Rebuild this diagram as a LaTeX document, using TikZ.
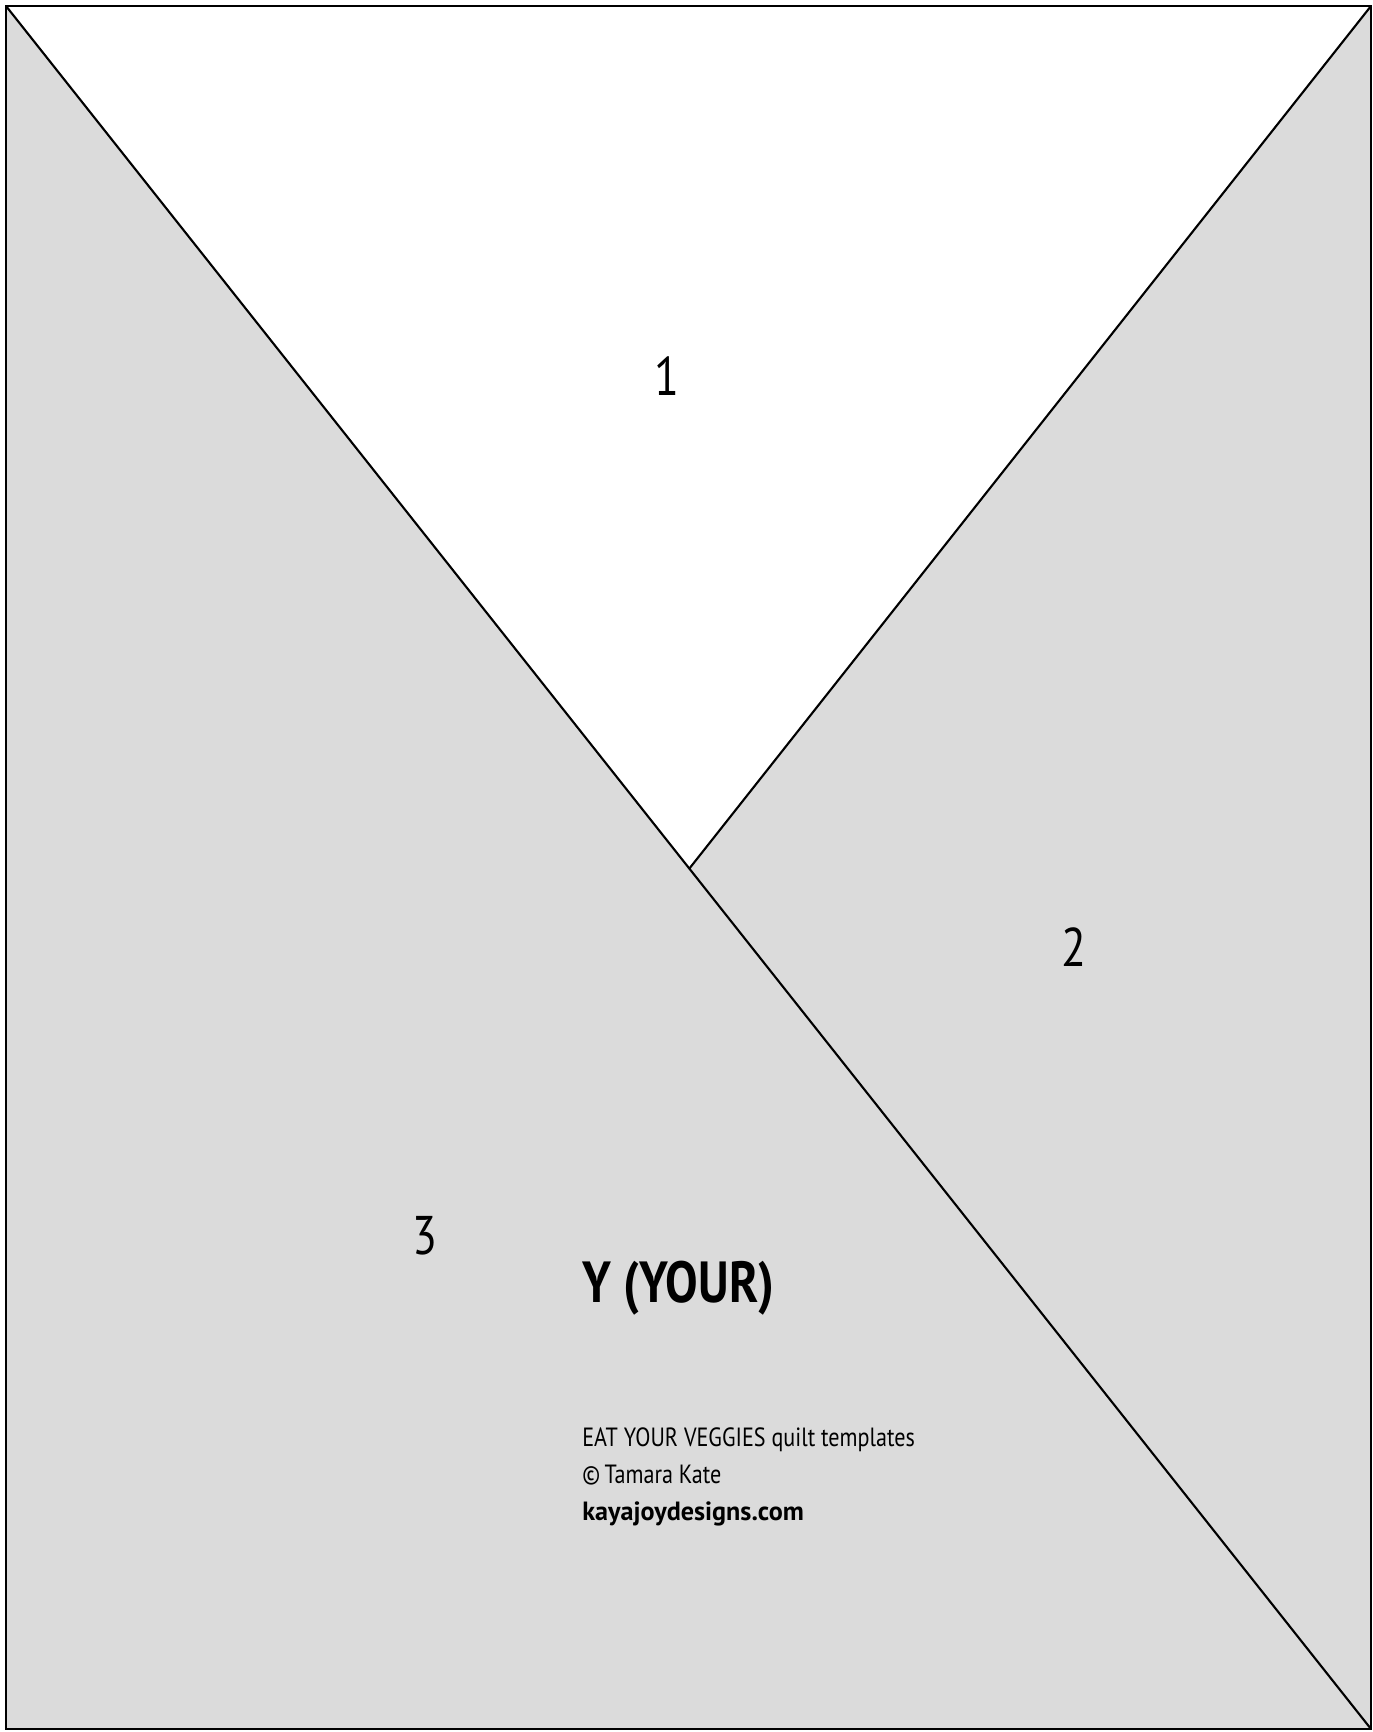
\documentclass[tikz,border=0pt]{standalone}
\usepackage{fontspec}
\setmainfont{PT Sans}[FakeStretch=0.84]
\usepackage{tikz}
\usetikzlibrary{positioning}
\definecolor{patchgray}{RGB}{219,219,219}

\begin{document}
\begin{tikzpicture}[
  x=0.2mm, y=-0.2mm,
  seam/.style={draw=black, line width=1.2pt},
  piece/.style={font=\fontsize{31}{31}\selectfont, inner sep=0pt},
  credit/.style={font=\fontsize{15}{18}\selectfont, inner sep=0pt, anchor=base west},
]
  \useasboundingbox (0,0) rectangle (1373,1732);

  % Corners
  \coordinate (tl) at (6,6);
  \coordinate (tr) at (1371,6);
  \coordinate (bl) at (6,1729);
  \coordinate (br) at (1371,1729);
  \coordinate (apex) at (689,869);

  % Patches
  \fill[patchgray] (tl) rectangle (br);
  \fill[white] (tl) -- (tr) -- (apex) -- cycle;

  % Seams
  \draw[seam] (tl) rectangle (br);
  \draw[seam] (tl) -- (br);
  \draw[seam] (tr) -- (apex);

  % Piece numbers
  \node[piece] (p1) at (667,376) {1};
  \node[piece] (p2) at (1074,947) {2};
  \node[piece] (p3) at (425,1236) {3};

  % Title
  \node[inner sep=0pt, anchor=base west, font=\fontsize{33}{33}\selectfont\bfseries] (title) at (582,1302) {Y (YOUR)};

  % Credits
  \node[credit] (line1) at (582,1446) {EAT YOUR VEGGIES quilt templates};
  \node[credit] (line2) at (582,1483) {\textcopyright\,Tamara Kate};
  \node[credit, font=\fontsize{15}{18}\selectfont\bfseries] (line3) at (582,1520) {\scalebox{1.18}[1]{kayajoydesigns.com}};
\end{tikzpicture}
\end{document}
